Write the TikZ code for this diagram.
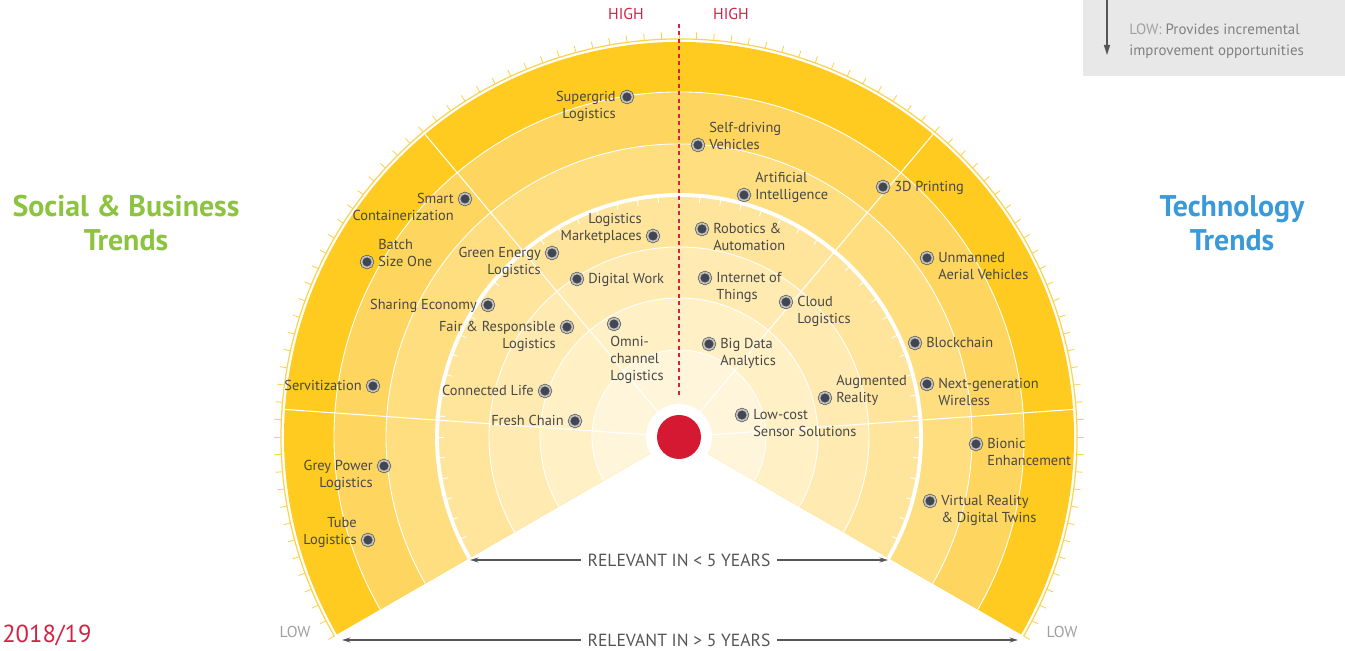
\documentclass[tikz,border=0pt]{standalone}
\usepackage{fontspec}
\setmainfont{PT Sans}
\usetikzlibrary{positioning,arrows.meta}

\definecolor{ringA}{RGB}{255,245,218}
\definecolor{ringB}{RGB}{255,240,198}
\definecolor{ringC}{RGB}{255,235,178}
\definecolor{ringD}{RGB}{255,229,155}
\definecolor{ringE}{RGB}{254,222,126}
\definecolor{ringF}{RGB}{254,213,94}
\definecolor{ringG}{RGB}{255,203,32}
\definecolor{rimline}{RGB}{250,212,80}
\definecolor{hubred}{RGB}{214,25,50}
\definecolor{highred}{RGB}{210,35,70}
\definecolor{txtgray}{RGB}{72,72,72}
\definecolor{dotcore}{RGB}{66,70,82}
\definecolor{dotring}{RGB}{196,194,186}
\definecolor{socgreen}{RGB}{140,196,63}
\definecolor{techblue}{RGB}{58,154,217}
\definecolor{keygray}{RGB}{232,232,232}
\definecolor{lowgray}{RGB}{160,160,160}
\definecolor{arrgray}{RGB}{85,85,85}

\begin{document}
\begin{tikzpicture}[x=0.02cm,y=0.02cm,node distance=0.1cm,
    item/.style={circle,draw=dotcore,line width=0.35pt,double=dotring,double distance=1pt,fill=dotcore,minimum size=0.225cm,inner sep=0pt},
    lbl/.style={font=\fontsize{8.2}{9.7}\selectfont,text=txtgray,inner sep=0pt},
    lft/.style={lbl,align=right,anchor=mid east},
    rgt/.style={lbl,align=left,anchor=mid west},
    dotfirst/.style={yshift=-9.7pt},
    spoke/.style={white,line width=0.6pt},
    ringline/.style={white,line width=0.5pt},
    rimtick/.style={rimline,line width=0.5pt},
    gap/.style={arrgray,line width=0.8pt,-{Stealth[length=0.17cm,width=0.1cm]}},
    span/.style={font=\fontsize{10}{12}\selectfont,text=arrgray,inner sep=0.12cm},
    high/.style={font=\fontsize{9}{11}\selectfont,text=highred},
    low/.style={font=\fontsize{9}{11}\selectfont,text=lowgray},
    trend/.style={font=\fontsize{17}{19.3}\selectfont\bfseries,align=center}]
  \useasboundingbox (-679,-214) rectangle (666,437);

  % fan of rings
  \foreach \r/\c in {395/ringG,345/ringF,293/ringE,242/ringD,190/ringC,139/ringB,87/ringA}
    \fill[\c] (0,0) -- (-30:\r) arc[start angle=-30,end angle=210,radius=\r] -- cycle;
  \foreach \r in {87,139,190,293,345}
    \draw[ringline] (-30:\r) arc[start angle=-30,end angle=210,radius=\r];
  \foreach \a in {4,50,130,176}
    \draw[spoke] (\a:33) -- (\a:395);
  \draw[white,line width=2.2pt] (-30:242) arc[start angle=-30,end angle=210,radius=242];
  \foreach \a in {-25,-20,...,205}
    \draw[white,line width=0.5pt] (\a:235) -- (\a:241);

  % rim with ticks
  \draw[rimline,line width=0.7pt] (-30:398) arc[start angle=-30,end angle=210,radius=398];
  \foreach \a in {-30,-27.5,...,210}
    \draw[rimtick] (\a:398) -- (\a:405);

  % hub
  \node[circle,fill=white,minimum size=1.32cm,inner sep=0pt] (halo) at (0,0) {};
  \node[circle,fill=hubred,minimum size=0.88cm,inner sep=0pt] (hub) at (0,0) {};
  \draw[highred,line width=0.7pt,dash pattern=on 0.08cm off 0.07cm] (0,42) -- (0,414);
  \node[high] (high_l) at (-53,423) {HIGH};
  \node[high] (high_r) at (52,423) {HIGH};
  \node[low] (low_l) at (-384,-195) {LOW};
  \node[low] (low_r) at (383,-195) {LOW};

  % social & business trends
  \node[item] (d_supergrid) at (-52,340) {};
  \node[left=of d_supergrid,lft,dotfirst] (t_supergrid) {Supergrid\\Logistics};
  \node[item] (d_smart) at (-214,238) {};
  \node[left=of d_smart,lft,dotfirst] (t_smart) {Smart\\Containerization};
  \node[item] (d_batch) at (-312,175) {};
  \node[right=of d_batch,rgt] (t_batch) {Batch\\Size One};
  \node[item] (d_green) at (-127,184) {};
  \node[left=of d_green,lft,dotfirst] (t_green) {Green Energy\\Logistics};
  \node[item] (d_market) at (-26,201) {};
  \node[left=of d_market,lft] (t_market) {Logistics\\Marketplaces};
  \node[item] (d_digital) at (-102,158) {};
  \node[right=of d_digital,rgt] (t_digital) {Digital Work};
  \node[item] (d_sharing) at (-191,132) {};
  \node[left=of d_sharing,lft] (t_sharing) {Sharing Economy};
  \node[item] (d_fair) at (-112,110) {};
  \node[left=of d_fair,lft,dotfirst] (t_fair) {Fair \& Responsible\\Logistics};
  \node[item] (d_omni) at (-65,113) {};
  \node[rgt] (t_omni) at (-69,61) {Omni-\\channel\\Logistics};
  \node[item] (d_servi) at (-306,51) {};
  \node[left=of d_servi,lft] (t_servi) {Servitization};
  \node[item] (d_connected) at (-134,46) {};
  \node[left=of d_connected,lft] (t_connected) {Connected Life};
  \node[item] (d_fresh) at (-104,16) {};
  \node[left=of d_fresh,lft] (t_fresh) {Fresh Chain};
  \node[item] (d_grey) at (-295,-29) {};
  \node[left=of d_grey,lft,dotfirst] (t_grey) {Grey Power\\Logistics};
  \node[item] (d_tube) at (-311,-103) {};
  \node[left=of d_tube,lft] (t_tube) {Tube\\Logistics};

  % technology trends
  \node[item] (d_selfdrive) at (19,292) {};
  \node[right=of d_selfdrive,rgt] (t_selfdrive) {Self-driving\\Vehicles};
  \node[item] (d_ai) at (65,242) {};
  \node[right=of d_ai,rgt] (t_ai) {Artificial\\Intelligence};
  \node[item] (d_print) at (204,250) {};
  \node[right=of d_print,rgt] (t_print) {3D Printing};
  \node[item] (d_robotics) at (23,208) {};
  \node[right=of d_robotics,rgt,dotfirst] (t_robotics) {Robotics \&\\Automation};
  \node[item] (d_uav) at (248,179) {};
  \node[right=of d_uav,rgt,dotfirst] (t_uav) {Unmanned\\Aerial Vehicles};
  \node[item] (d_iot) at (26,159) {};
  \node[right=of d_iot,rgt,dotfirst] (t_iot) {Internet of\\Things};
  \node[item] (d_cloud) at (107,135) {};
  \node[right=of d_cloud,rgt,dotfirst] (t_cloud) {Cloud\\Logistics};
  \node[item] (d_bigdata) at (30,93) {};
  \node[right=of d_bigdata,rgt,dotfirst] (t_bigdata) {Big Data\\Analytics};
  \node[item] (d_blockchain) at (236,94) {};
  \node[right=of d_blockchain,rgt] (t_blockchain) {Blockchain};
  \node[item] (d_ar) at (146,39) {};
  \node[right=of d_ar,rgt] (t_ar) {Augmented\\Reality};
  \node[item] (d_nextgen) at (248,53) {};
  \node[right=of d_nextgen,rgt,dotfirst] (t_nextgen) {Next-generation\\Wireless};
  \node[item] (d_sensor) at (63,22) {};
  \node[right=of d_sensor,rgt,dotfirst] (t_sensor) {Low-cost\\Sensor Solutions};
  \node[item] (d_bionic) at (297,-7) {};
  \node[right=of d_bionic,rgt,dotfirst] (t_bionic) {Bionic\\Enhancement};
  \node[item] (d_vr) at (251,-64) {};
  \node[right=of d_vr,rgt,dotfirst] (t_vr) {Virtual Reality\\\& Digital Twins};

  % time spans
  \node[span] (lt5) at (0,-123) {RELEVANT IN < 5 YEARS};
  \coordinate (lt5_l) at (-209,-123);
  \coordinate (lt5_r) at (209,-123);
  \draw[gap] (lt5) -- (lt5_l);
  \draw[gap] (lt5) -- (lt5_r);
  \node[span] (gt5) at (0,-203) {RELEVANT IN > 5 YEARS};
  \coordinate (gt5_l) at (-337,-203);
  \coordinate (gt5_r) at (339,-203);
  \draw[gap] (gt5) -- (gt5_l);
  \draw[gap] (gt5) -- (gt5_r);

  % titles
  \node[trend,text=socgreen] (soc) at (-553,214) {Social \& Business\\Trends};
  \node[trend,text=techblue] (tech) at (553,214) {Technology\\Trends};

  % key box
  \fill[keygray] (404,361) rectangle (666,437);
  \coordinate (key_top) at (428,437);
  \coordinate (key_tip) at (428,382);
  \draw[arrgray,line width=0.8pt,-{Triangle[length=0.2cm,width=0.12cm]}] (key_top) -- (key_tip);
  \node[lbl,anchor=mid west,align=left,font=\fontsize{8.5}{12}\selectfont,text=gray] (key) at (450,386)
    {\textcolor{lowgray}{LOW:} Provides incremental\\improvement opportunities};

  \node[font=\fontsize{14}{17}\selectfont,text=highred,anchor=west,inner sep=0pt] (year) at (-677,-198) {2018/19};
\end{tikzpicture}
\end{document}
